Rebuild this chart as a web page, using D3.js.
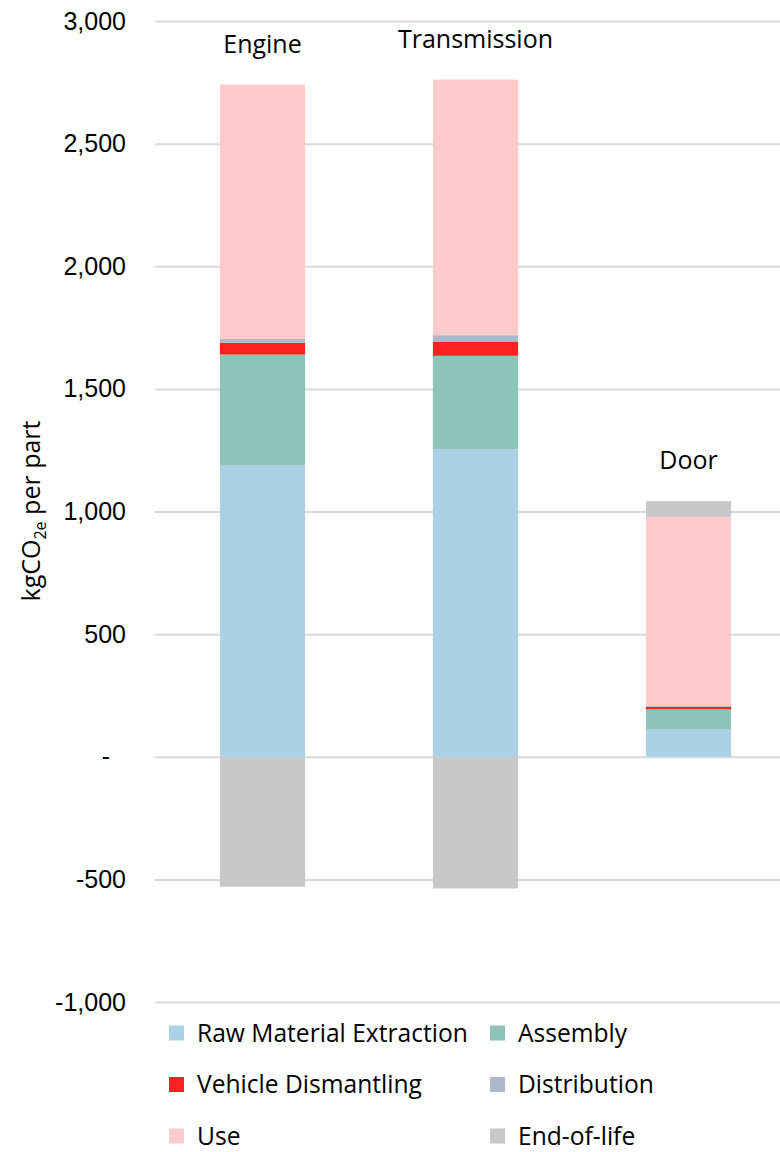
<!DOCTYPE html>
<html>
<head>
<meta charset="utf-8">
<script src="https://cdn.jsdelivr.net/npm/d3@7"></script>
<style>
  body { margin: 0; background: #fff; }
  svg { font-family: "Open Sans", sans-serif; }
  .grid line { stroke: #d9d9d9; stroke-width: 2; }
  .tick text { font-size: 25px; fill: #000; }
</style>
</head>
<body>
<div id="chart"></div>
<script>
// data (kgCO2e per part)
const categories = ["Engine", "Transmission", "Door"];
const stages = ["Raw Material Extraction", "Assembly", "Vehicle Dismantling", "Distribution", "Use", "End-of-life"];
const rawMaterial = [1187, 1253, 111];
const assembly = [453, 382, 82];
const dismantling = [48, 58, 11];
const distribution = [17, 26, 5];
const use = [1036, 1042, 769];
const endOfLife = [-530, -537, 64];
const yTicks = [-1000, -500, 0, 500, 1000, 1500, 2000, 2500, 3000];
const colors = ["#abd1e6", "#8dc3b9", "#ff2020", "#adb9cb", "#ffcaca", "#c8c8c8"];

const series = [rawMaterial, assembly, dismantling, distribution, use, endOfLife];
const rows = categories.map((c, i) => {
  const r = { cat: c };
  stages.forEach((s, k) => r[s] = series[k][i]);
  return r;
});

const width = 780, height = 1152;
const svg = d3.select("#chart").append("svg")
  .attr("width", width)
  .attr("height", height);

const x = d3.scaleBand()
  .domain(categories)
  .range([156, 795])
  .paddingInner(0.6)
  .paddingOuter(0.3);

const y = d3.scaleLinear()
  .domain([-1000, 3000])
  .range([1002, 21]);

// gridlines + tick labels (excel accounting style: 0 shown as "-")
const fmt = d3.format(",");
const axis = svg.append("g")
  .attr("class", "grid")
  .attr("transform", "translate(155,0)")
  .call(d3.axisLeft(y)
    .tickValues(yTicks)
    .tickSize(-(width - 155))
    .tickPadding(29)
    .tickFormat(d => d === 0 ? "-" : fmt(d).replace("\u2212", "-")));
axis.select(".domain").remove();
axis.selectAll(".tick text").filter(d => d === 0).attr("dx", -16);

// stacked bars
const stack = d3.stack().keys(stages).offset(d3.stackOffsetDiverging);
const layers = stack(rows);

svg.append("g").selectAll("g")
  .data(layers)
  .join("g")
  .attr("fill", (d, i) => colors[i])
  .selectAll("rect")
  .data(d => d)
  .join("rect")
  .attr("x", d => x(d.data.cat))
  .attr("width", x.bandwidth())
  .attr("y", d => y(Math.max(d[0], d[1])))
  .attr("height", d => Math.abs(y(d[0]) - y(d[1])));

// category labels above each bar
const tops = rows.map(r => d3.sum(stages, s => Math.max(0, r[s])));
svg.append("g").selectAll("text")
  .data(categories)
  .join("text")
  .attr("x", d => x(d) + x.bandwidth() / 2)
  .attr("y", (d, i) => y(tops[i]) - 32)
  .attr("text-anchor", "middle")
  .attr("font-size", 25)
  .text(d => d);

// y axis title
const title = svg.append("text")
  .attr("transform", "translate(40,511) rotate(-90)")
  .attr("text-anchor", "middle")
  .attr("font-size", 25);
title.append("tspan").text("kgCO");
title.append("tspan").attr("font-size", 16).attr("dy", 6).text("2e");
title.append("tspan").attr("dy", -6).text(" per part");

// legend
const legend = svg.append("g").selectAll("g")
  .data(stages)
  .join("g")
  .attr("transform", (d, i) => `translate(${i % 2 ? 490 : 169},${1033 + Math.floor(i / 2) * 51.5})`);
legend.append("rect")
  .attr("y", -7.5)
  .attr("width", 15)
  .attr("height", 15)
  .attr("fill", (d, i) => colors[i]);
legend.append("text")
  .attr("x", 28)
  .attr("dy", "0.35em")
  .attr("font-size", 24.6)
  .text(d => d);
</script>
</body>
</html>
